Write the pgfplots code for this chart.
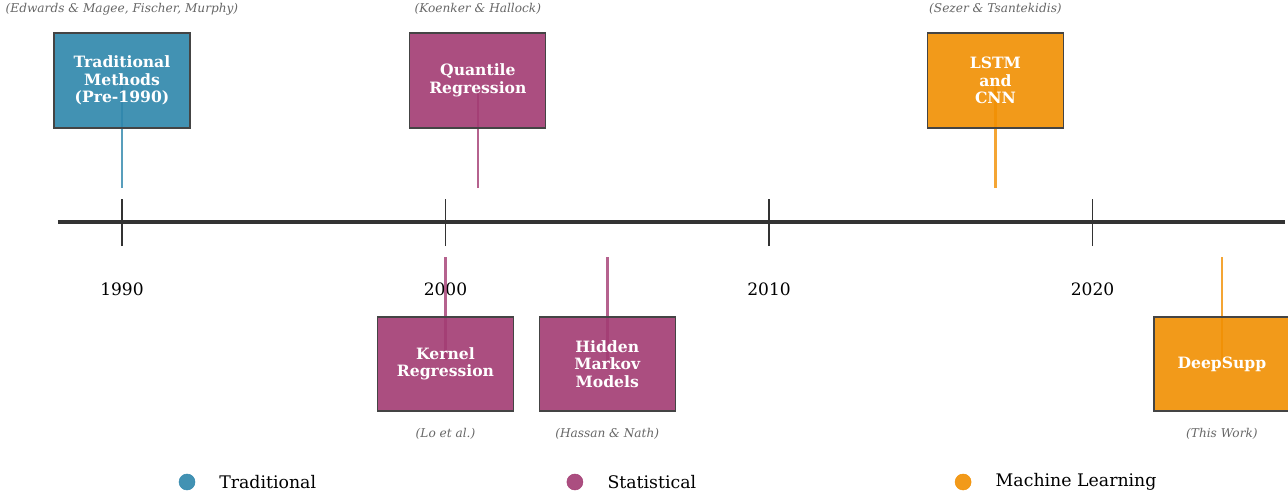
\documentclass[border=0pt]{standalone}
\usepackage{pgfplots}
\pgfplotsset{compat=1.18}
\usepackage{fontspec}
\setmainfont{DejaVu Serif}
\definecolor{ctrad}{HTML}{2E86AB}
\definecolor{cstat}{HTML}{A23B72}
\definecolor{cml}{HTML}{F18F01}
\definecolor{cline}{HTML}{333333}
\definecolor{cedge}{HTML}{444444}
\definecolor{ccite}{HTML}{666666}
\newcommand{\evbox}[6]{% x, ylow, yhigh, color, text, ymid
  \addplot[fill=#4, fill opacity=0.9, draw=cedge, line width=0.9pt] coordinates {(#1-2.102,#2) (#1+2.102,#2) (#1+2.102,#3) (#1-2.102,#3)} -- cycle;
  \node[text=white, font=\fontsize{11.7}{13.2}\selectfont\bfseries, align=center] at (axis cs:#1,#6) {#5};
}
\begin{document}
\begin{tikzpicture}
\begin{axis}[
  scale only axis, width=966pt, height=372.75pt,
  xmin=1986.229, xmax=2026.043, ymin=0, ymax=497,
  hide axis, clip=false]
\coordinate (bl) at (rel axis cs:0,0);
\coordinate (tr) at (rel axis cs:1,1);
% main line
\addplot[cline, line width=2.3pt] coordinates {(1988.02,275) (2025.95,275)};
% ticks
\addplot[cline, line width=1.2pt] coordinates {(1990,251) (1990,298)};
\addplot[cline, line width=1.2pt] coordinates {(2000,251) (2000,298)};
\addplot[cline, line width=1.2pt] coordinates {(2010,251) (2010,298)};
\addplot[cline, line width=1.2pt] coordinates {(2020,251) (2020,298)};
\node[font=\fontsize{12.8}{14}\selectfont] at (axis cs:1990,208) {1990};
\node[font=\fontsize{12.8}{14}\selectfont] at (axis cs:2000,208) {2000};
\node[font=\fontsize{12.8}{14}\selectfont] at (axis cs:2010,208) {2010};
\node[font=\fontsize{12.8}{14}\selectfont] at (axis cs:2020,208) {2020};
% stems
\addplot[ctrad, opacity=0.8, line width=2pt] coordinates {(1990,309) (1990,412)};
\addplot[cstat, opacity=0.8, line width=2pt] coordinates {(2001,309) (2001,412)};
\addplot[cml, opacity=0.8, line width=2pt] coordinates {(2017,309) (2017,412)};
\addplot[cstat, opacity=0.8, line width=2pt] coordinates {(2000,240) (2000,137)};
\addplot[cstat, opacity=0.8, line width=2pt] coordinates {(2005,240) (2005,137)};
\addplot[cml, opacity=0.8, line width=2pt] coordinates {(2024,240) (2024,137)};
% boxes
\evbox{1990}{369}{464}{ctrad}{Traditional\\Methods\\(Pre-1990)}{416.5}
\evbox{2001}{369}{464}{cstat}{Quantile\\Regression}{416.5}
\evbox{2017}{369}{464}{cml}{LSTM\\and\\CNN}{416.5}
\evbox{2000}{86}{180}{cstat}{Kernel\\Regression}{133}
\evbox{2005}{86}{180}{cstat}{Hidden\\Markov\\Models}{133}
\evbox{2024}{86}{180}{cml}{DeepSupp}{133}
% citations
\node[text=ccite, font=\fontsize{9.1}{11}\selectfont\itshape] at (axis cs:1990,488) {(Edwards \& Magee, Fischer, Murphy)};
\node[text=ccite, font=\fontsize{9.1}{11}\selectfont\itshape] at (axis cs:2001,488) {(Koenker \& Hallock)};
\node[text=ccite, font=\fontsize{9.1}{11}\selectfont\itshape] at (axis cs:2017,488) {(Sezer \& Tsantekidis)};
\node[text=ccite, font=\fontsize{9.1}{11}\selectfont\itshape] at (axis cs:2000,63) {(Lo et al.)};
\node[text=ccite, font=\fontsize{9.1}{11}\selectfont\itshape] at (axis cs:2005,63) {(Hassan \& Nath)};
\node[text=ccite, font=\fontsize{9.1}{11}\selectfont\itshape] at (axis cs:2024,63) {(This Work)};
% legend
\addplot[only marks, mark=*, mark size=6pt, color=ctrad, opacity=0.9] coordinates {(1992.01,15)};
\addplot[only marks, mark=*, mark size=6pt, color=cstat, opacity=0.9] coordinates {(2004.0,15)};
\addplot[only marks, mark=*, mark size=6pt, color=cml, opacity=0.9] coordinates {(2016.0,15)};
\node[anchor=west, font=\fontsize{13}{15}\selectfont, inner sep=0pt] at (axis cs:1993.0,15) {Traditional};
\node[anchor=west, font=\fontsize{13}{15}\selectfont, inner sep=0pt] at (axis cs:2005.0,15) {Statistical};
\node[anchor=west, font=\fontsize{13}{15}\selectfont, inner sep=0pt] at (axis cs:2017.0,15) {Machine Learning};
\end{axis}
\pgfresetboundingbox
\path[use as bounding box] (bl) rectangle (tr);
\end{tikzpicture}
\end{document}
